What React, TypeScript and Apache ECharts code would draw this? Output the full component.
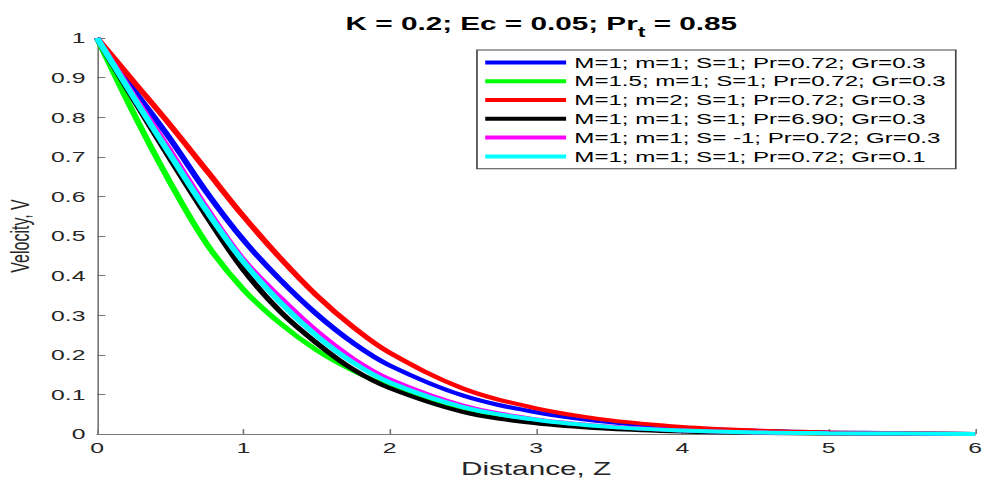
import React, { useEffect, useRef } from "react";
import * as echarts from "echarts";

const distance = [0, 0.25, 0.5, 0.75, 1, 1.25, 1.5, 1.75, 2, 2.5, 3, 3.5, 4, 4.5, 5, 5.5, 6];

const seriesNames = [
  "M=1; m=1; S=1; Pr=0.72; Gr=0.3",
  "M=1.5; m=1; S=1; Pr=0.72; Gr=0.3",
  "M=1; m=2; S=1; Pr=0.72; Gr=0.3",
  "M=1; m=1; S=1; Pr=6.90; Gr=0.3",
  "M=1; m=1; S= -1; Pr=0.72; Gr=0.3",
  "M=1; m=1; S=1; Pr=0.72; Gr=0.1",
];

const seriesColors = ["#0000ff", "#00ff00", "#ff0000", "#000000", "#ff00ff", "#00ffff"];

const blueV = [1, 0.87, 0.745, 0.61, 0.49, 0.39, 0.303, 0.23, 0.173, 0.097, 0.055, 0.03, 0.015, 0.008, 0.004, 0.002, 0];
const greenV = [1, 0.81, 0.635, 0.48, 0.365, 0.28, 0.212, 0.16, 0.12, 0.06, 0.031, 0.016, 0.008, 0.004, 0.002, 0.001, 0];
const redV = [1, 0.89, 0.78, 0.665, 0.55, 0.445, 0.35, 0.27, 0.205, 0.115, 0.065, 0.035, 0.018, 0.009, 0.004, 0.002, 0];
const blackV = [1, 0.845, 0.695, 0.55, 0.415, 0.31, 0.23, 0.163, 0.116, 0.056, 0.027, 0.013, 0.006, 0.003, 0.001, 0.0005, 0];
const magentaV = [1, 0.855, 0.715, 0.57, 0.44, 0.345, 0.26, 0.19, 0.138, 0.072, 0.037, 0.019, 0.009, 0.004, 0.002, 0.001, 0];
const cyanV = [1, 0.85, 0.705, 0.563, 0.435, 0.333, 0.248, 0.18, 0.13, 0.068, 0.036, 0.018, 0.009, 0.004, 0.002, 0.001, 0];

const allValues = [blueV, greenV, redV, blackV, magentaV, cyanV];

const xTicks = [0, 1, 2, 3, 4, 5, 6];
const yTicks = [0, 0.1, 0.2, 0.3, 0.4, 0.5, 0.6, 0.7, 0.8, 0.9, 1];

const BASE_W = 595;
const SCALE_X = 982 / BASE_W;

export default function App() {
  const ref = useRef<HTMLDivElement>(null);
  useEffect(() => {
    if (!ref.current) return;
    const chart = echarts.init(ref.current, null, { renderer: "svg" });
    const axisColor = "#777777";
    const labelColor = "#262626";
    chart.setOption({
      animation: false,
      backgroundColor: "#ffffff",
      title: {
        text: "{a|K = 0.2; Ec = 0.05; Pr}{b|t}{a| = 0.85}",
        left: 323,
        textAlign: "center",
        top: 4,
        textStyle: {
          rich: {
            a: { fontFamily: "Liberation Sans, Arial", fontSize: 18, fontWeight: "bold", color: "#000" },
            b: { fontFamily: "Liberation Sans, Arial", fontSize: 14, fontWeight: "bold", color: "#000", padding: [16, 0, 0, 0] },
          },
        },
      },
      legend: {
        orient: "vertical",
        left: 289,
        top: 50,
        data: seriesNames,
        icon: "rect",
        itemWidth: 49,
        itemHeight: 4,
        itemGap: 0,
        padding: [3, 6, 3, 5],
        borderColor: "#444",
        borderWidth: 1,
        backgroundColor: "#ffffff",
        textStyle: { fontFamily: "Liberation Sans, Arial", fontSize: 14.6, color: "#000", lineHeight: 18.8 },
      },
      grid: { left: 58.8, right: 4.2, top: 38, bottom: 52, containLabel: false, outerBoundsMode: "none" },
      xAxis: {
        type: "value",
        min: xTicks[0],
        max: xTicks[xTicks.length - 1],
        interval: 1,
        name: "Distance, Z",
        nameLocation: "middle",
        nameGap: 23,
        nameTextStyle: { fontFamily: "Liberation Sans, Arial", fontSize: 18, color: labelColor },
        axisLine: { show: true, lineStyle: { color: axisColor, width: 1 } },
        axisTick: { show: true, inside: true, length: 5, lineStyle: { color: axisColor } },
        axisLabel: { fontFamily: "Liberation Sans, Arial", fontSize: 15, color: labelColor, margin: 6 },
        splitLine: { show: false },
      },
      yAxis: {
        type: "value",
        min: yTicks[0],
        max: yTicks[yTicks.length - 1],
        interval: 0.1,
        name: "Velocity, V",
        nameLocation: "middle",
        nameRotate: 90,
        nameGap: 35.5,
        nameTextStyle: { fontFamily: "Liberation Sans, Arial", fontSize: 16, color: labelColor },
        axisLine: { show: true, lineStyle: { color: axisColor, width: 1 } },
        axisTick: { show: true, inside: true, length: 5, lineStyle: { color: axisColor } },
        axisLabel: { fontFamily: "Liberation Sans, Arial", fontSize: 15, color: labelColor, margin: 7 },
        splitLine: { show: false },
      },
      series: allValues.map((vals, i) => ({
        name: seriesNames[i],
        type: "line",
        data: distance.map((x, j) => [x, vals[j]]),
        smooth: 0.35,
        showSymbol: false,
        symbol: "none",
        lineStyle: { color: seriesColors[i], width: 4 },
        itemStyle: { color: seriesColors[i] },
      })),
    });
    return () => chart.dispose();
  }, []);
  return (
    <div
      style={{
        position: "fixed",
        left: 0,
        top: 0,
        width: BASE_W,
        height: 486,
        transform: `scaleX(${SCALE_X})`,
        transformOrigin: "0 0",
      }}
    >
      <div ref={ref} style={{ width: BASE_W, height: 486 }} />
    </div>
  );
}
